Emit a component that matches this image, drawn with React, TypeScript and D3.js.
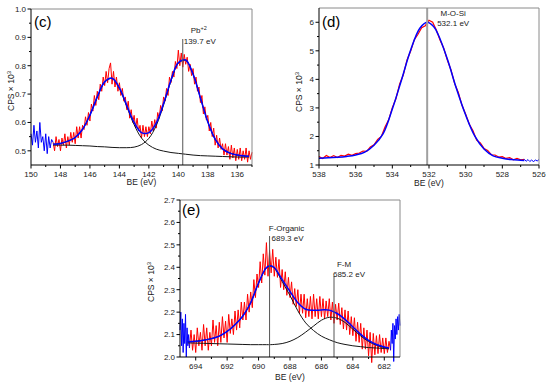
import React from 'react';
import * as d3 from 'd3';

// ---------- Panel (c): Pb 4f ----------
const C_X_TICKS = [150, 148, 146, 144, 142, 140, 138, 136];
const C_X_MINOR = [149, 147, 145, 143, 141, 139, 137, 135];
const C_Y_TICKS = [0.5, 0.6, 0.7, 0.8, 0.9, 1.0];
const C_Y_MINOR = [0.55, 0.65, 0.75, 0.85, 0.95];
const C_FIT_BE = [148.5, 148, 147.5, 147, 146.5, 146, 145.5, 145, 144.5, 144, 143.5, 143, 142.5, 142, 141.5, 141, 140.5, 140, 139.5, 139, 138.5, 138, 137.5, 137, 136.5, 136, 135.5, 135.2];
const C_ENVELOPE = [0.523, 0.526, 0.534, 0.547, 0.576, 0.626, 0.690, 0.743, 0.756, 0.722, 0.660, 0.600, 0.564, 0.564, 0.598, 0.667, 0.749, 0.811, 0.820, 0.770, 0.686, 0.602, 0.541, 0.507, 0.492, 0.485, 0.482, 0.481];
const C_PEAK_A = [0.523, 0.526, 0.534, 0.547, 0.576, 0.626, 0.690, 0.742, 0.755, 0.720, 0.656, 0.592, 0.545, 0.520, 0.506, 0.499, 0.494, 0.491, 0.488, 0.485, 0.483, 0.482, 0.481, 0.480, 0.479, 0.478, 0.478, 0.478];
const C_PEAK_B = [0.520, 0.520, 0.520, 0.519, 0.518, 0.517, 0.515, 0.514, 0.512, 0.511, 0.511, 0.513, 0.522, 0.544, 0.589, 0.662, 0.746, 0.809, 0.819, 0.770, 0.686, 0.602, 0.541, 0.507, 0.492, 0.485, 0.482, 0.481];
const C_RAW_START = 148.5;
const C_RAW_STEP = 0.1;
const C_RAW = [
  0.53, 0.50, 0.55, 0.515, 0.54, 0.50, 0.545, 0.52, 0.56, 0.51,
  0.55, 0.52, 0.565, 0.53, 0.565, 0.525, 0.585, 0.545, 0.585, 0.545,
  0.59, 0.575, 0.62, 0.59, 0.635, 0.605, 0.665, 0.64, 0.695, 0.66,
  0.71, 0.68, 0.735, 0.71, 0.76, 0.73, 0.78, 0.74, 0.79, 0.81,
  0.735, 0.78, 0.725, 0.76, 0.71, 0.74, 0.695, 0.72, 0.675, 0.69,
  0.645, 0.675, 0.615, 0.645, 0.60, 0.625, 0.58, 0.615, 0.57, 0.59,
  0.545, 0.59, 0.55, 0.585, 0.55, 0.585, 0.56, 0.605, 0.57, 0.61,
  0.58, 0.635, 0.615, 0.66, 0.64, 0.69, 0.675, 0.72, 0.695, 0.76,
  0.74, 0.78, 0.76, 0.815, 0.79, 0.855, 0.80, 0.845, 0.795, 0.84,
  0.805, 0.83, 0.78, 0.805, 0.765, 0.79, 0.735, 0.76, 0.71, 0.725,
  0.67, 0.695, 0.63, 0.655, 0.61, 0.625, 0.57, 0.60, 0.55, 0.58,
  0.52, 0.555, 0.51, 0.545, 0.505, 0.525, 0.485, 0.525, 0.485, 0.515,
  0.47, 0.52, 0.475, 0.51, 0.465, 0.505, 0.47, 0.51, 0.465, 0.50,
  0.47, 0.51, 0.46, 0.50, 0.47, 0.495,
];
const C_EDGE_START = 150;
const C_EDGE_STEP = 0.1;
const C_EDGE = [0.56, 0.52, 0.59, 0.53, 0.57, 0.51, 0.60, 0.53, 0.55, 0.50, 0.56, 0.49, 0.55, 0.51, 0.54, 0.53];
const C_MARK = 139.7;

// ---------- Panel (d): O 1s ----------
const D_X_TICKS = [538, 536, 534, 532, 530, 528, 526];
const D_X_MINOR = [537, 535, 533, 531, 529, 527];
const D_Y_TICKS = [1, 2, 3, 4, 5, 6];
const D_Y_MINOR = [1.5, 2.5, 3.5, 4.5, 5.5];
const D_FIT_BE = [538, 537.5, 537, 536.5, 536, 535.5, 535, 534.5, 534, 533.5, 533, 532.5, 532.1, 531.75, 531.5, 531, 530.5, 530, 529.5, 529, 528.5, 528, 527.5, 527, 526.8];
const D_ENVELOPE = [1.24, 1.25, 1.27, 1.30, 1.35, 1.45, 1.69, 2.10, 2.96, 3.98, 5.03, 5.79, 6.00, 5.85, 5.57, 4.71, 3.67, 2.75, 2.01, 1.56, 1.32, 1.24, 1.19, 1.17, 1.16];
const D_RAW_START = 538;
const D_RAW_STEP = 0.2;
const D_RAW = [
  1.30, 1.23, 1.33, 1.26, 1.33, 1.26, 1.34, 1.31, 1.38, 1.34,
  1.40, 1.42, 1.49, 1.48, 1.63, 1.71, 1.90, 2.00, 2.33, 2.58,
  3.01, 3.33, 3.84, 4.16, 4.68, 4.99, 5.39, 5.58, 5.81, 5.88,
  6.07, 6.00, 5.73, 5.38, 5.10, 4.68, 4.33, 3.85, 3.54, 3.09,
  2.78, 2.43, 2.20, 1.87, 1.77, 1.58, 1.51, 1.36, 1.35, 1.28,
  1.29, 1.23, 1.26, 1.18, 1.23, 1.18, 1.20,
];
const D_EDGE_START = 526.8;
const D_EDGE_STEP = 0.1;
const D_EDGE = [1.20, 1.13, 1.19, 1.12, 1.18, 1.11, 1.18, 1.14, 1.19];
const D_MARK = 532.1;

// ---------- Panel (e): F 1s ----------
const E_X_TICKS = [694, 692, 690, 688, 686, 684, 682];
const E_X_MINOR = [693, 691, 689, 687, 685, 683];
const E_Y_TICKS = [2.0, 2.1, 2.2, 2.3, 2.4, 2.5, 2.6, 2.7];
const E_Y_MINOR = [2.05, 2.15, 2.25, 2.35, 2.45, 2.55, 2.65];
const E_FIT_BE = [694.5, 694, 693.5, 693, 692.5, 692, 691.5, 691, 690.5, 690, 689.5, 689.25, 689, 688.5, 688, 687.5, 687, 686.5, 686, 685.5, 685, 684.5, 684, 683.5, 683, 682.5, 682, 681.7];
const E_ENVELOPE = [2.068, 2.070, 2.075, 2.082, 2.093, 2.114, 2.144, 2.183, 2.242, 2.330, 2.399, 2.407, 2.399, 2.345, 2.292, 2.242, 2.213, 2.208, 2.210, 2.209, 2.194, 2.168, 2.134, 2.101, 2.074, 2.056, 2.045, 2.040];
const E_ORGANIC = [2.068, 2.070, 2.075, 2.082, 2.093, 2.114, 2.144, 2.183, 2.242, 2.330, 2.397, 2.405, 2.396, 2.337, 2.274, 2.206, 2.152, 2.118, 2.093, 2.077, 2.064, 2.056, 2.050, 2.046, 2.042, 2.040, 2.038, 2.036];
const E_METAL = [2.063, 2.062, 2.061, 2.060, 2.059, 2.058, 2.057, 2.056, 2.055, 2.055, 2.055, 2.055, 2.056, 2.060, 2.070, 2.087, 2.111, 2.138, 2.164, 2.177, 2.173, 2.154, 2.124, 2.094, 2.069, 2.052, 2.042, 2.038];
const E_RAW_START = 694.4;
const E_RAW_STEP = 0.1;
const E_RAW = [
  2.04, 2.12, 2.03, 2.10, 2.02, 2.13, 2.05, 2.11, 2.03, 2.145,
  2.05, 2.13, 2.03, 2.11, 2.05, 2.165, 2.065, 2.14, 2.05, 2.155,
  2.065, 2.18, 2.085, 2.16, 2.065, 2.19, 2.105, 2.17, 2.10, 2.205,
  2.12, 2.21, 2.13, 2.245, 2.165, 2.245, 2.165, 2.28, 2.20, 2.29,
  2.22, 2.345, 2.265, 2.37, 2.31, 2.425, 2.33, 2.46, 2.365, 2.51,
  2.36, 2.475, 2.375, 2.48, 2.36, 2.445, 2.355, 2.435, 2.31, 2.39,
  2.30, 2.38, 2.275, 2.355, 2.265, 2.335, 2.235, 2.305, 2.225, 2.30,
  2.195, 2.28, 2.195, 2.28, 2.175, 2.26, 2.18, 2.27, 2.17, 2.28,
  2.18, 2.26, 2.17, 2.27, 2.18, 2.26, 2.17, 2.25, 2.18, 2.26,
  2.165, 2.245, 2.15, 2.235, 2.165, 2.24, 2.145, 2.22, 2.125, 2.21,
  2.12, 2.205, 2.10, 2.18, 2.095, 2.175, 2.07, 2.155, 2.065, 2.15,
  2.035, 2.13, 2.035, 2.12, 2.005, 2.11, 1.975, 2.105, 2.01, 2.095,
  2.015, 2.10, 2.02, 2.085, 2.015, 2.085, 2.02, 2.07, 2.03,
];
const E_EDGE_L_START = 695.0;
const E_EDGE_L_STEP = 0.05;
const E_EDGE_L = [2.12, 2.20, 2.05, 2.17, 2.02, 2.15, 2.06, 2.19, 2.00, 2.13, 2.05, 2.10, 2.04];
const E_EDGE_R_START = 681.6;
const E_EDGE_R_STEP = 0.05;
const E_EDGE_R = [2.03, 2.12, 2.06, 2.15, 1.98, 2.14, 2.08, 2.17, 2.10, 2.18, 2.12, 2.19, 2.14];
const E_MARK_ORG = 689.3;
const E_MARK_M = 685.2;

const FONT = "'Liberation Sans', Arial, Helvetica, sans-serif";
const RED = '#ff0000';
const BLUE = '#0000ff';
const FITK = '#151515';

type Box = { l: number; r: number; t: number; b: number };
type Scale = d3.ScaleLinear<number, number>;

const regular = (start: number, step: number, n: number) => d3.range(n).map((i) => start - i * step);

function path(x: Scale, y: Scale, xs: number[], ys: number[], smooth: boolean) {
  const gen = d3
    .line<number>()
    .x((_, i) => x(xs[i]))
    .y((v) => y(v))
    .curve(smooth ? d3.curveCatmullRom.alpha(0.5) : d3.curveLinear);
  return gen(ys) || '';
}

type PanelProps = {
  box: Box;
  xDomain: [number, number];
  yDomain: [number, number];
  xTicks: number[];
  xMinor: number[];
  yTicks: number[];
  yMinor: number[];
  yFmt: (v: number) => string;
  tag: string;
  tagX: number;
  tagY: number;
  yTitleX: number;
  yTitleY: number;
  xTitleY: number;
  children: (x: Scale, y: Scale) => React.ReactNode;
};

function Panel(p: PanelProps) {
  const { box } = p;
  const x = d3.scaleLinear().domain(p.xDomain).range([box.l, box.r]);
  const y = d3.scaleLinear().domain(p.yDomain).range([box.b, box.t]);
  return (
    <g>
      {p.children(x, y)}
      {/* frame */}
      <line x1={box.l} x2={box.r} y1={box.t} y2={box.t} stroke="#8a8a8a" strokeWidth={1} />
      <line x1={box.r} x2={box.r} y1={box.t} y2={box.b} stroke="#8a8a8a" strokeWidth={1} />
      <line x1={box.l} x2={box.r} y1={box.b} y2={box.b} stroke="#000" strokeWidth={1} />
      <line x1={box.l} x2={box.l} y1={box.t} y2={box.b} stroke="#000" strokeWidth={1} />
      {p.xTicks.map((t) => (
        <g key={'xt' + t}>
          <line x1={x(t)} x2={x(t)} y1={box.b} y2={box.b + 3.5} stroke="#000" />
          <text x={x(t)} y={box.b + 11.5} fontSize={8} textAnchor="middle" fill="#222">
            {t}
          </text>
        </g>
      ))}
      {p.xMinor.map((t) => (
        <line key={'xm' + t} x1={x(t)} x2={x(t)} y1={box.b} y2={box.b + 2} stroke="#000" />
      ))}
      {p.yTicks.map((t) => (
        <g key={'yt' + t}>
          <line x1={box.l - 3.5} x2={box.l} y1={y(t)} y2={y(t)} stroke="#000" />
          <text x={box.l - 5} y={y(t) + 2.8} fontSize={8} textAnchor="end" fill="#222">
            {p.yFmt(t)}
          </text>
        </g>
      ))}
      {p.yMinor.map((t) => (
        <line key={'ym' + t} x1={box.l - 2} x2={box.l} y1={y(t)} y2={y(t)} stroke="#000" />
      ))}
      <text x={(box.l + box.r) / 2} y={p.xTitleY} fontSize={8.5} textAnchor="middle" fill="#222">
        BE (eV)
      </text>
      <text transform={`translate(${p.yTitleX},${p.yTitleY}) rotate(-90)`} fontSize={8.5} textAnchor="middle" fill="#222">
        CPS × 10
        <tspan dy={-3.5} fontSize={6}>
          3
        </tspan>
      </text>
      <text x={p.tagX} y={p.tagY} fontSize={15} fill="#000">
        {p.tag}
      </text>
    </g>
  );
}

export default function App() {
  const cRawX = regular(C_RAW_START, C_RAW_STEP, C_RAW.length);
  const cEdgeX = regular(C_EDGE_START, C_EDGE_STEP, C_EDGE.length);
  const dRawX = regular(D_RAW_START, D_RAW_STEP, D_RAW.length);
  const dEdgeX = regular(D_EDGE_START, D_EDGE_STEP, D_EDGE.length);
  const eRawX = regular(E_RAW_START, E_RAW_STEP, E_RAW.length);
  const eEdgeLX = regular(E_EDGE_L_START, E_EDGE_L_STEP, E_EDGE_L.length);
  const eEdgeRX = regular(E_EDGE_R_START, E_EDGE_R_STEP, E_EDGE_R.length);

  return (
    <svg
      width={550}
      height={384}
      viewBox="0 0 550 384"
      style={{ position: 'absolute', left: 0, top: 0, background: '#fff' }}
      fontFamily={FONT}
    >
      <rect x={0} y={0} width={550} height={384} fill="#fff" />
      {/* (c) */}
      <Panel
        box={{ l: 31, r: 252, t: 9, b: 165 }}
        xDomain={[150, 135]}
        yDomain={[0.45, 1.0]}
        xTicks={C_X_TICKS}
        xMinor={C_X_MINOR}
        yTicks={C_Y_TICKS}
        yMinor={C_Y_MINOR}
        yFmt={(v) => v.toFixed(1)}
        tag="(c)"
        tagX={34}
        tagY={27}
        yTitleX={14}
        yTitleY={91}
        xTitleY={185}
      >
        {(x, y) => (
          <g>
            <path d={path(x, y, cRawX, C_RAW, false)} fill="none" stroke={RED} strokeWidth={1} />
            <path d={path(x, y, cEdgeX, C_EDGE, false)} fill="none" stroke={BLUE} strokeWidth={1} />
            <path d={path(x, y, C_FIT_BE, C_PEAK_A, true)} fill="none" stroke={FITK} strokeWidth={1} />
            <path d={path(x, y, C_FIT_BE, C_PEAK_B, true)} fill="none" stroke={FITK} strokeWidth={1} />
            <path d={path(x, y, C_FIT_BE, C_ENVELOPE, true)} fill="none" stroke={BLUE} strokeWidth={1.5} />
            <line x1={x(C_MARK)} x2={x(C_MARK)} y1={39} y2={165} stroke="#555" strokeWidth={1} />
            <text x={x(C_MARK) + 16} y={33} fontSize={8} textAnchor="middle" fill="#222">
              Pb
              <tspan dy={-3} fontSize={5.5}>
                +2
              </tspan>
            </text>
            <text x={x(C_MARK) + 17} y={44} fontSize={8} textAnchor="middle" fill="#222">
              {C_MARK} eV
            </text>
          </g>
        )}
      </Panel>

      {/* (d) */}
      <Panel
        box={{ l: 319, r: 539, t: 8, b: 165 }}
        xDomain={[538, 526]}
        yDomain={[1, 6.5]}
        xTicks={D_X_TICKS}
        xMinor={D_X_MINOR}
        yTicks={D_Y_TICKS}
        yMinor={D_Y_MINOR}
        yFmt={(v) => String(v)}
        tag="(d)"
        tagX={322}
        tagY={27}
        yTitleX={302}
        yTitleY={92}
        xTitleY={186}
      >
        {(x, y) => (
          <g>
            <path d={path(x, y, dRawX, D_RAW, false)} fill="none" stroke={RED} strokeWidth={1.2} />
            <path d={path(x, y, dEdgeX, D_EDGE, false)} fill="none" stroke={BLUE} strokeWidth={1} />
            <path d={path(x, y, D_FIT_BE, D_ENVELOPE, true)} fill="none" stroke={BLUE} strokeWidth={1.5} />
            <line x1={x(D_MARK)} x2={x(D_MARK)} y1={8} y2={165} stroke="#a0a0a0" strokeWidth={2} />
            <text x={x(D_MARK) + 26} y={16} fontSize={8} textAnchor="middle" fill="#222">
              M-O-Si
            </text>
            <text x={x(D_MARK) + 26} y={26} fontSize={8} textAnchor="middle" fill="#222">
              {D_MARK} eV
            </text>
          </g>
        )}
      </Panel>

      {/* (e) */}
      <Panel
        box={{ l: 180, r: 400, t: 200, b: 357 }}
        xDomain={[695, 681]}
        yDomain={[2.0, 2.7]}
        xTicks={E_X_TICKS}
        xMinor={E_X_MINOR}
        yTicks={E_Y_TICKS}
        yMinor={E_Y_MINOR}
        yFmt={(v) => v.toFixed(1)}
        tag="(e)"
        tagX={182}
        tagY={215}
        yTitleX={154}
        yTitleY={282}
        xTitleY={380}
      >
        {(x, y) => (
          <g>
            <path d={path(x, y, eRawX, E_RAW, false)} fill="none" stroke={RED} strokeWidth={1} />
            <path d={path(x, y, eEdgeLX, E_EDGE_L, false)} fill="none" stroke={BLUE} strokeWidth={1} />
            <path d={path(x, y, eEdgeRX, E_EDGE_R, false)} fill="none" stroke={BLUE} strokeWidth={1} />
            <path d={path(x, y, E_FIT_BE, E_ORGANIC, true)} fill="none" stroke={FITK} strokeWidth={1} />
            <path d={path(x, y, E_FIT_BE, E_METAL, true)} fill="none" stroke={FITK} strokeWidth={1} />
            <path d={path(x, y, E_FIT_BE, E_ENVELOPE, true)} fill="none" stroke={BLUE} strokeWidth={1.5} />
            <line x1={x(E_MARK_ORG)} x2={x(E_MARK_ORG)} y1={236} y2={357} stroke="#555" strokeWidth={1} />
            <line x1={x(E_MARK_M)} x2={x(E_MARK_M)} y1={276} y2={357} stroke="#555" strokeWidth={1} />
            <text x={x(E_MARK_ORG) + 17} y={231} fontSize={8} textAnchor="middle" fill="#222">
              F-Organic
            </text>
            <text x={x(E_MARK_ORG) + 18} y={241} fontSize={8} textAnchor="middle" fill="#222">
              {E_MARK_ORG} eV
            </text>
            <text x={x(E_MARK_M) + 10} y={267} fontSize={8} textAnchor="middle" fill="#222">
              F-M
            </text>
            <text x={x(E_MARK_M) + 15} y={277} fontSize={8} textAnchor="middle" fill="#222">
              {E_MARK_M} eV
            </text>
          </g>
        )}
      </Panel>
    </svg>
  );
}
